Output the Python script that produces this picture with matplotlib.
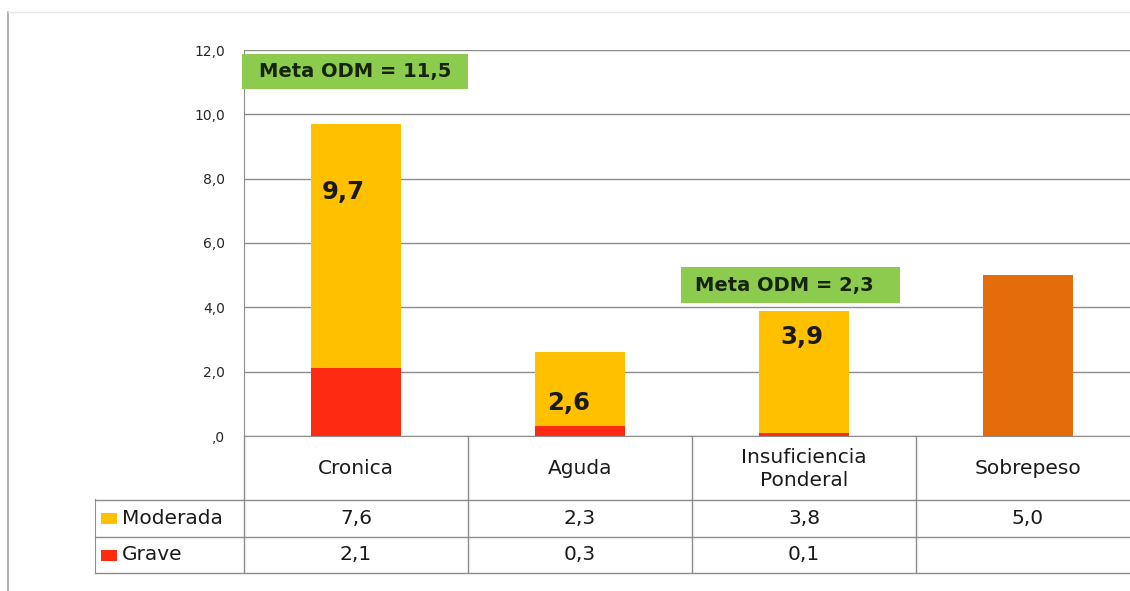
import matplotlib
matplotlib.use("Agg")
import matplotlib.pyplot as plt
from matplotlib.patches import Rectangle
from matplotlib.lines import Line2D

# ---- data ----
categories = ["Cronica", "Aguda", "Insuficiencia\nPonderal", "Sobrepeso"]
moderada = [7.6, 2.3, 3.8, 5.0]
grave = [2.1, 0.3, 0.1, None]
total_labels = ["9,7", "2,6", "3,9", ""]
series_names = ["Moderada", "Grave"]
meta_labels = ["Meta ODM = 11,5", "Meta ODM = 2,3"]
y_ticks = [0, 2, 4, 6, 8, 10, 12]
y_tick_labels = [",0", "2,0", "4,0", "6,0", "8,0", "10,0", "12,0"]

C_MOD = "#FFC000"
C_GRAVE = "#FF2A12"
C_SOBRE = "#E46C0A"
C_GREEN = "#8DCB4E"
C_GRID = "#8C8C8C"
FONT = "DejaVu Sans"

W, H = 1130, 591
fig = plt.figure(figsize=(W / 100, H / 100), dpi=100)
fig.patch.set_facecolor("white")

def fx(px):
    return px / W

def fy(py):
    return 1 - py / H

# chart border
fig.add_artist(Line2D([fx(8), fx(8)], [fy(12), fy(591)], color="#A6A6A6", lw=1.2))
fig.add_artist(Line2D([fx(8), fx(1130)], [fy(12), fy(12)], color="#E6E6E6", lw=1.0))

# ---- main axes ----
ax_l, ax_r, ax_t, ax_b = 244, 1140, 50, 436
ax = fig.add_axes([fx(ax_l), fy(ax_b), (ax_r - ax_l) / W, (ax_b - ax_t) / H])
n = len(categories)
ax.set_xlim(-0.5, n - 0.5)
ax.set_ylim(0, 12)
ax.set_yticks(y_ticks)
ax.set_yticklabels(y_tick_labels, fontsize=10, color="#262626", family=FONT)
ax.tick_params(axis="y", length=0, pad=13.5)
ax.set_xticks([])
ax.grid(axis="y", color=C_GRID, lw=1.0)
ax.set_axisbelow(True)
for s in ["top", "right"]:
    ax.spines[s].set_visible(False)
ax.spines["left"].set_color(C_GRID)
ax.spines["bottom"].set_color(C_GRID)

x = list(range(n))
bw = 0.4
g_vals = [g if g is not None else 0 for g in grave]
mod_colors = [C_MOD, C_MOD, C_MOD, C_SOBRE]
ax.bar(x, g_vals, width=bw, color=C_GRAVE, zorder=2)
ax.bar(x, moderada, width=bw, bottom=g_vals, color=mod_colors, zorder=2)

label_y = [7.58, 1.03, 3.08, 0]
label_dx = [-0.056, -0.051, -0.011, 0]
for i, t in enumerate(total_labels):
    if t:
        ax.text(x[i] + label_dx[i], label_y[i], t, ha="center", va="center", fontsize=17.5,
                fontweight="bold", color="#1a1a1a", family=FONT, zorder=3)

# Meta ODM boxes
boxes = [(-0.509, 10.79, 1.009, 1.08), (1.451, 4.13, 0.978, 1.12)]
text_dx = [0.0, -0.03]
for (bx, by, bwid, bh), lab, dx in zip(boxes, meta_labels, text_dx):
    ax.add_patch(Rectangle((bx, by), bwid, bh, facecolor=C_GREEN, edgecolor="none",
                           zorder=4, clip_on=False))
    ax.text(bx + bwid / 2 + dx, by + bh / 2, lab, ha="center", va="center", fontsize=14,
            fontweight="bold", color="#16240c", family=FONT, zorder=5)

# ---- data table ----
t_l, t_t, t_b = 95, 436, 573
tab = fig.add_axes([fx(t_l), fy(t_b), (ax_r - t_l) / W, (t_b - t_t) / H])
x_left = -0.5 - (ax_l - t_l) / ((ax_r - ax_l) / n)
tab.set_xlim(x_left, n - 0.5)
tab.set_ylim(t_b, t_t)
tab.axis("off")

row_head = (436, 500)
row_mod = (500, 537)
row_grave = (537, 573)
lc = C_GRID
for yy in [row_mod[0], row_grave[0], row_grave[1]]:
    tab.plot([x_left, n - 0.5], [yy, yy], color=lc, lw=1.0, clip_on=False)
for b in [-0.5 + k for k in range(1, n)]:
    tab.plot([b, b], [436, 573], color=lc, lw=1.0)
tab.plot([-0.5, -0.5], [436, 573], color=lc, lw=1.0)
tab.plot([x_left, x_left], [500, 573], color=lc, lw=1.5)

TFS = 14.5
for i, c in enumerate(categories):
    tab.text(i, sum(row_head) / 2 + 1, c, ha="center", va="center", fontsize=TFS,
             color="#1a1a1a", family=FONT, linespacing=1.3)
for i in range(n):
    tab.text(i, sum(row_mod) / 2, f"{moderada[i]:.1f}".replace(".", ","), ha="center",
             va="center", fontsize=TFS, color="#1a1a1a", family=FONT)
    if grave[i] is not None:
        tab.text(i, sum(row_grave) / 2, f"{grave[i]:.1f}".replace(".", ","), ha="center",
                 va="center", fontsize=TFS, color="#1a1a1a", family=FONT)

# legend keys in table
unit = (ax_r - ax_l) / n  # px per data unit
for name, col, row in zip(series_names, [C_MOD, C_GRAVE], [row_mod, row_grave]):
    cy = sum(row) / 2
    tab.add_patch(Rectangle((x_left + 6 / unit, cy - 5.5), 16 / unit, 11, facecolor=col,
                            edgecolor="none"))
    tab.text(x_left + 27 / unit, cy, name, ha="left", va="center", fontsize=TFS,
             color="#1a1a1a", family=FONT)

fig.savefig("out.png", dpi=100, facecolor="white")
